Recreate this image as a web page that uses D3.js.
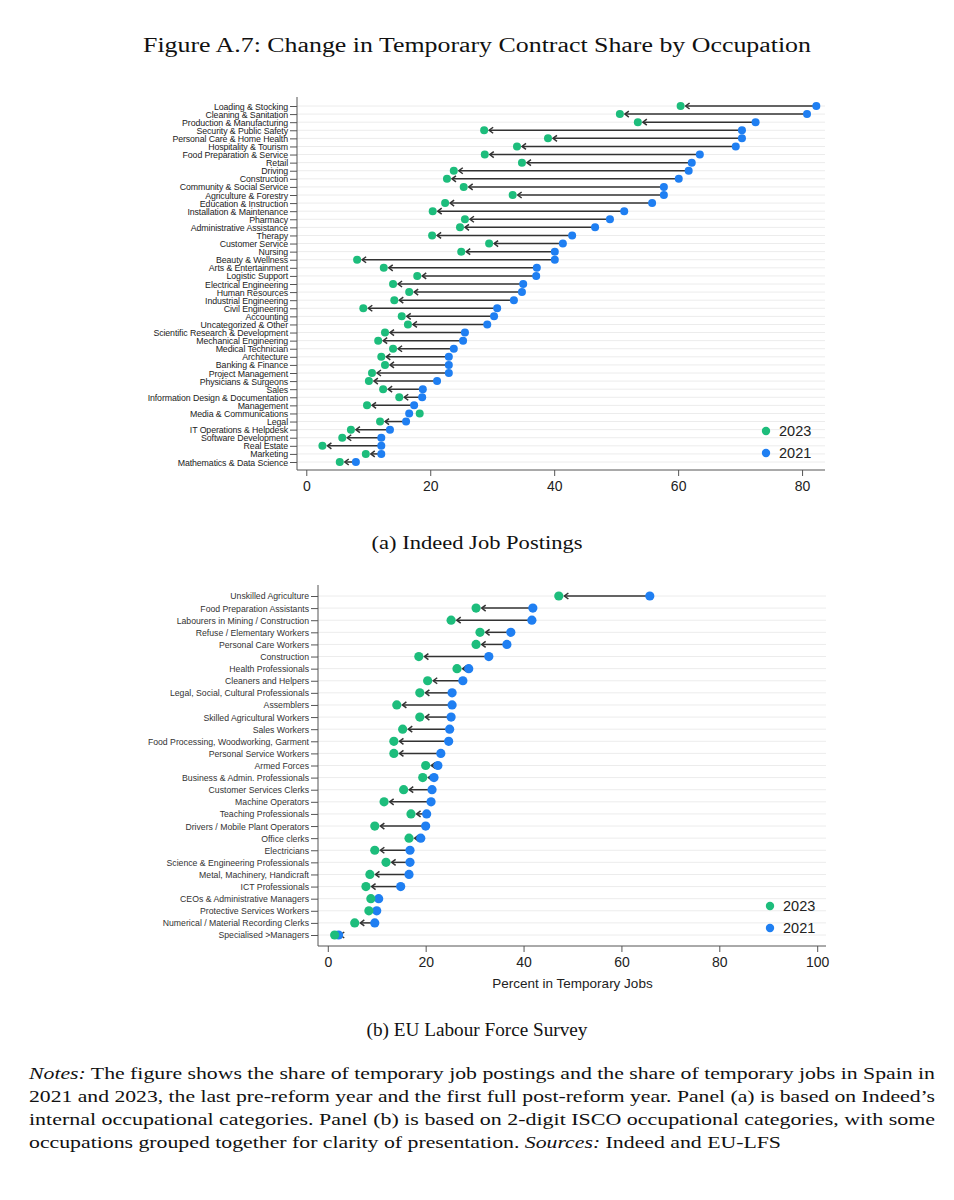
<!DOCTYPE html>
<html>
<head>
<meta charset="utf-8">
<script src="https://cdn.jsdelivr.net/npm/d3@7/dist/d3.min.js"></script>
<style>
  html, body { margin: 0; padding: 0; background: #fff; }
  svg { display: block; }
</style>
</head>
<body>
<svg id="chart" width="954" height="1200"></svg>
<script>
// ---------- Panel (a): Indeed Job Postings ----------
const catsA = [
  "Loading & Stocking","Cleaning & Sanitation","Production & Manufacturing","Security & Public Safety",
  "Personal Care & Home Health","Hospitality & Tourism","Food Preparation & Service","Retail","Driving",
  "Construction","Community & Social Service","Agriculture & Forestry","Education & Instruction",
  "Installation & Maintenance","Pharmacy","Administrative Assistance","Therapy","Customer Service","Nursing",
  "Beauty & Wellness","Arts & Entertainment","Logistic Support","Electrical Engineering","Human Resources",
  "Industrial Engineering","Civil Engineering","Accounting","Uncategorized & Other",
  "Scientific Research & Development","Mechanical Engineering","Medical Technician","Architecture",
  "Banking & Finance","Project Management","Physicians & Surgeons","Sales",
  "Information Design & Documentation","Management","Media & Communications","Legal",
  "IT Operations & Helpdesk","Software Development","Real Estate","Marketing","Mathematics & Data Science"
];
const a2021 = [82.3,80.8,72.5,70.3,70.3,69.3,63.5,62.2,61.7,60.1,57.7,57.7,55.8,51.3,49.0,46.6,42.9,41.4,40.1,
  40.1,37.2,37.1,35.0,34.8,33.5,30.8,30.3,29.2,25.6,25.3,23.8,23.0,23.0,23.0,21.1,18.8,18.7,17.4,16.6,16.1,
  13.5,12.1,12.1,12.1,8.0];
const a2023 = [60.4,50.6,53.5,28.7,39.0,34.0,28.8,34.8,23.8,22.7,25.4,33.3,22.4,20.4,25.6,24.8,20.3,29.5,25.0,
  8.2,12.5,17.9,14.0,16.6,14.2,9.2,15.4,16.4,12.7,11.6,14.0,12.1,12.7,10.6,10.1,12.4,15.0,9.8,18.3,11.9,
  7.2,5.8,2.6,9.6,5.4];
const ticksA = [0, 20, 40, 60, 80];

// ---------- Panel (b): EU Labour Force Survey ----------
const catsB = [
  "Unskilled Agriculture","Food Preparation Assistants","Labourers in Mining / Construction",
  "Refuse / Elementary Workers","Personal Care Workers","Construction","Health Professionals",
  "Cleaners and Helpers","Legal, Social, Cultural Professionals","Assemblers","Skilled Agricultural Workers",
  "Sales Workers","Food Processing, Woodworking, Garment","Personal Service Workers","Armed Forces",
  "Business & Admin. Professionals","Customer Services Clerks","Machine Operators","Teaching Professionals",
  "Drivers / Mobile Plant Operators","Office clerks","Electricians","Science & Engineering Professionals",
  "Metal, Machinery, Handicraft","ICT Professionals","CEOs & Administrative Managers",
  "Protective Services Workers","Numerical / Material Recording Clerks","Specialised >Managers"
];
const b2021 = [65.8,41.9,41.7,37.4,36.6,32.9,28.8,27.6,25.4,25.4,25.2,24.9,24.7,23.1,22.5,21.7,21.3,21.1,
  20.2,20.0,19.0,16.8,16.8,16.6,14.9,10.4,10.0,9.6,2.2];
const b2023 = [47.2,30.3,25.2,31.1,30.3,18.6,26.4,20.4,18.8,14.1,18.8,15.3,13.5,13.5,20.0,19.4,15.5,11.5,
  17.0,9.6,16.6,9.6,11.9,8.6,7.8,8.8,8.4,5.5,1.4];
const ticksB = [0, 20, 40, 60, 80, 100];

const seriesNames = ["2023", "2021"];
const colors = { "2023": "#1dbd7c", "2021": "#1f7ff2" };

const svg = d3.select("#chart");
svg.append("rect").attr("width", 954).attr("height", 1200).attr("fill", "#fff");

function drawPanel(cfg) {
  const g = svg.append("g");
  const x = d3.scaleLinear().domain(cfg.xDomain).range([cfg.left, cfg.right]);
  const y = d3.scalePoint().domain(cfg.cats).range([cfg.rowTop, cfg.rowBottom]);

  // gridlines
  g.append("g").selectAll("line").data(cfg.cats).join("line")
    .attr("x1", cfg.left).attr("x2", cfg.right)
    .attr("y1", d => y(d)).attr("y2", d => y(d))
    .attr("stroke", "#ececec").attr("stroke-width", 1);

  // y axis
  const ya = g.append("g").attr("transform", `translate(${cfg.left},0)`)
    .call(d3.axisLeft(y).tickSize(7).tickPadding(2).tickSizeOuter(0));
  ya.select(".domain").attr("d", `M0,${cfg.top}V${cfg.bottom}`).attr("stroke", cfg.axisColor);
  ya.selectAll(".tick line").attr("stroke", cfg.axisColor);
  ya.selectAll(".tick text").attr("font-family", cfg.labelFont).attr("font-size", cfg.labelSize)
    .attr("fill", cfg.labelColor).attr("dy", "0.34em")
    .attr("letter-spacing", cfg.labelSpacing || 0);

  // x axis
  const xa = g.append("g").attr("transform", `translate(0,${cfg.bottom})`)
    .call(d3.axisBottom(x).tickValues(cfg.ticks).tickSize(6).tickPadding(5).tickSizeOuter(0));
  xa.select(".domain").attr("d", `M${cfg.left},0H${cfg.right}`).attr("stroke", cfg.axisColor);
  xa.selectAll(".tick line").attr("stroke", cfg.axisColor);
  xa.selectAll(".tick text").attr("font-family", "Liberation Sans, Arial, sans-serif")
    .attr("font-size", cfg.tickSize).attr("fill", "#222");

  if (cfg.xTitle) {
    g.append("text").attr("x", (x(cfg.ticks[0]) + x(cfg.ticks[cfg.ticks.length - 1])) / 2)
      .attr("y", cfg.bottom + 42).attr("text-anchor", "middle")
      .attr("font-family", "Liberation Sans, Arial, sans-serif").attr("font-size", 13.5)
      .attr("fill", "#222").text(cfg.xTitle);
  }

  const rows = cfg.cats.map((c, i) => ({ c, v21: cfg.v21[i], v23: cfg.v23[i] }));
  const r = cfg.r;

  // arrows (2021 -> 2023)
  const ar = g.append("g").attr("stroke", "#333").attr("stroke-width", 1.5).attr("fill", "none");
  rows.forEach(d => {
    const dir = Math.sign(d.v21 - d.v23); // +1: arrow pointing left
    const tip = x(d.v23) + dir * (r + 1);
    const yy = y(d.c);
    if (Math.abs(x(d.v21) - tip) * dir <= 1) return;
    ar.append("line").attr("x1", x(d.v21)).attr("x2", tip + dir * 0.5).attr("y1", yy).attr("y2", yy);
    ar.append("path")
      .attr("d", `M${tip + dir * 4},${yy - 3}L${tip},${yy}L${tip + dir * 4},${yy + 3}`)
      .attr("stroke-linejoin", "miter");
  });

  // dots
  g.append("g").selectAll("circle").data(rows).join("circle")
    .attr("cx", d => x(d.v21)).attr("cy", d => y(d.c)).attr("r", r).attr("fill", colors["2021"]);
  g.append("g").selectAll("circle").data(rows).join("circle")
    .attr("cx", d => x(d.v23)).attr("cy", d => y(d.c)).attr("r", r).attr("fill", colors["2023"]);

  // legend
  const lg = g.append("g");
  seriesNames.forEach((s, i) => {
    const ly = cfg.legendY + i * 22;
    lg.append("circle").attr("cx", cfg.legendX).attr("cy", ly).attr("r", 4.2).attr("fill", colors[s]);
    lg.append("text").attr("x", cfg.legendX + 13).attr("y", ly).attr("dy", "0.36em")
      .attr("font-family", "Liberation Sans, Arial, sans-serif").attr("font-size", 14.5)
      .attr("fill", "#222").text(s);
  });
}

drawPanel({
  cats: catsA, v21: a2021, v23: a2023, ticks: ticksA,
  xDomain: [-1.5, 83.7], left: 297, right: 825, top: 97, bottom: 470,
  rowTop: 106, rowBottom: 462, r: 4,
  axisColor: "#555", labelFont: "Liberation Sans, Arial, sans-serif", labelSize: 8.8,
  labelColor: "#222", labelSpacing: -0.1, tickSize: 14,
  legendX: 766, legendY: 431
});

drawPanel({
  cats: catsB, v21: b2021, v23: b2023, ticks: ticksB,
  xDomain: [-2, 101.8], left: 318, right: 826, top: 585, bottom: 946,
  rowTop: 596, rowBottom: 935, r: 4.6,
  axisColor: "#555", labelFont: "Liberation Sans, Arial, sans-serif", labelSize: 8.7,
  labelColor: "#333", tickSize: 14, xTitle: "Percent in Temporary Jobs",
  legendX: 770, legendY: 906
});

// ---------- Title, captions, notes ----------
const serif = "Liberation Serif, Times New Roman, serif";
svg.append("text").attr("x", 477).attr("y", 52).attr("text-anchor", "middle")
  .attr("font-family", serif).attr("font-size", 20).attr("fill", "#111")
  .attr("textLength", 668).attr("lengthAdjust", "spacingAndGlyphs")
  .text("Figure A.7: Change in Temporary Contract Share by Occupation");

svg.append("text").attr("x", 477).attr("y", 549).attr("text-anchor", "middle")
  .attr("font-family", serif).attr("font-size", 18).attr("fill", "#111")
  .attr("textLength", 211).attr("lengthAdjust", "spacingAndGlyphs")
  .text("(a) Indeed Job Postings");

svg.append("text").attr("x", 477).attr("y", 1036).attr("text-anchor", "middle")
  .attr("font-family", serif).attr("font-size", 18).attr("fill", "#111")
  .attr("textLength", 221).attr("lengthAdjust", "spacingAndGlyphs")
  .text("(b) EU Labour Force Survey");

const notes = [
  { parts: [["Notes:", true], [" The figure shows the share of temporary job postings and the share of temporary jobs in Spain in", false]], w: 906 },
  { parts: [["2021 and 2023, the last pre-reform year and the first full post-reform year. Panel (a) is based on Indeed\u2019s", false]], w: 906 },
  { parts: [["internal occupational categories. Panel (b) is based on 2-digit ISCO occupational categories, with some", false]], w: 906 },
  { parts: [["occupations grouped together for clarity of presentation. ", false], ["Sources:", true], [" Indeed and EU-LFS", false]], w: 752 }
];
notes.forEach((ln, i) => {
  const t = svg.append("text").attr("x", 29).attr("y", 1079 + i * 23)
    .attr("font-family", serif).attr("font-size", 17).attr("fill", "#111")
    .attr("textLength", ln.w).attr("lengthAdjust", "spacingAndGlyphs")
    .attr("xml:space", "preserve");
  ln.parts.forEach(p => {
    t.append("tspan").attr("font-style", p[1] ? "italic" : "normal").text(p[0]);
  });
});
</script>
</body>
</html>
